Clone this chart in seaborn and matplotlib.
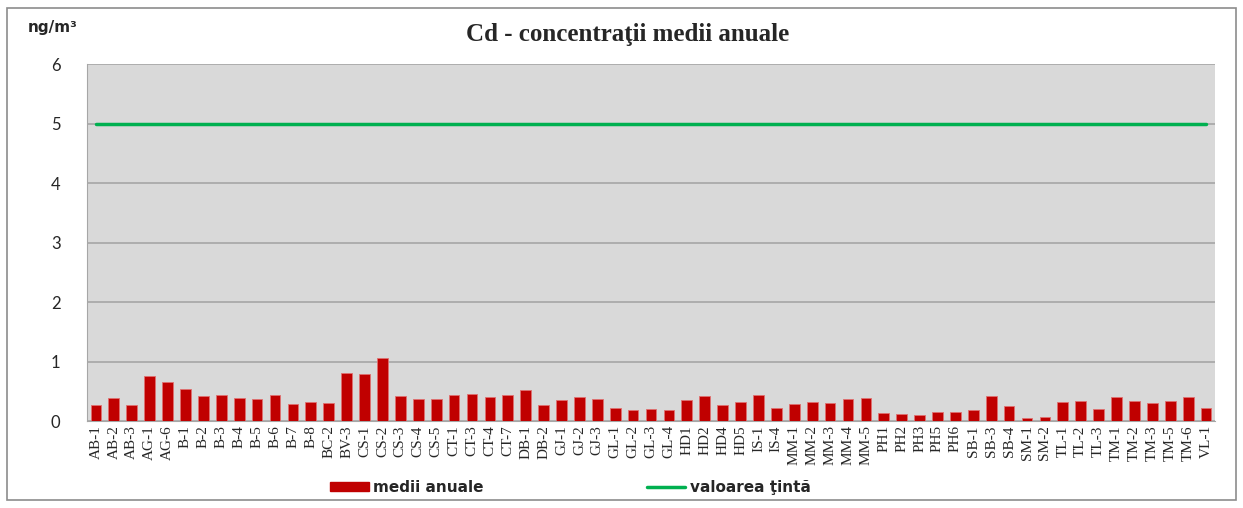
import numpy as np
import pandas as pd
import matplotlib
matplotlib.use("Agg")
import matplotlib.pyplot as plt
import seaborn as sns
from matplotlib.patches import Rectangle, Patch
from matplotlib.lines import Line2D

# Station codes and annual mean Cd concentrations (ng/m3)
stations = ["AB-1", "AB-2", "AB-3", "AG-1", "AG-6", "B-1", "B-2", "B-3", "B-4", "B-5",
            "B-6", "B-7", "B-8", "BC-2", "BV-3", "CS-1", "CS-2", "CS-3", "CS-4", "CS-5",
            "CT-1", "CT-3", "CT-4", "CT-7", "DB-1", "DB-2", "GJ-1", "GJ-2", "GJ-3", "GL-1",
            "GL-2", "GL-3", "GL-4", "HD1", "HD2", "HD4", "HD5", "IS-1", "IS-4", "MM-1",
            "MM-2", "MM-3", "MM-4", "MM-5", "PH1", "PH2", "PH3", "PH5", "PH6", "SB-1",
            "SB-3", "SB-4", "SM-1", "SM-2", "TL-1", "TL-2", "TL-3", "TM-1", "TM-2", "TM-3",
            "TM-5", "TM-6", "VL-1"]
annual_means = [0.27, 0.39, 0.27, 0.76, 0.66, 0.54, 0.42, 0.44, 0.39, 0.37,
                0.44, 0.28, 0.32, 0.30, 0.81, 0.80, 1.06, 0.43, 0.37, 0.37,
                0.44, 0.46, 0.41, 0.44, 0.52, 0.27, 0.36, 0.40, 0.38, 0.22,
                0.19, 0.20, 0.18, 0.35, 0.42, 0.27, 0.32, 0.44, 0.22, 0.28,
                0.32, 0.30, 0.37, 0.39, 0.14, 0.12, 0.11, 0.15, 0.15, 0.18,
                0.42, 0.26, 0.05, 0.07, 0.32, 0.34, 0.21, 0.40, 0.33, 0.30,
                0.34, 0.40, 0.22]
target_value = [5.0] * len(stations)

df = pd.DataFrame({"station": stations, "mean": annual_means, "target": target_value})

bar_color = "#c00000"
line_color = "#00b050"

sns.set_style("white")
fig = plt.figure(figsize=(12.43, 5.08), dpi=100)
ax = fig.add_axes([0.070, 0.171, 0.9075, 0.703])
ax.set_facecolor("#d9d9d9")

sns.barplot(data=df, x="station", y="mean", color=bar_color, width=0.6,
            edgecolor="#e07070", linewidth=0.6, saturation=1, ax=ax, zorder=3)
ax.plot(np.arange(len(df)), df["target"], color=line_color, linewidth=2.5, zorder=4)

ax.set_ylim(0, 6)
ax.set_yticks(range(0, 7))
ax.set_xlim(-0.5, len(df) - 0.5)
ax.grid(axis="y", color="#a6a6a6", linewidth=1.2, zorder=0)
ax.set_axisbelow(True)
ax.set_xlabel("")
ax.set_ylabel("")

for side in ["top", "right"]:
    ax.spines[side].set_visible(False)
ax.spines["left"].set_color("#a6a6a6")
ax.spines["bottom"].set_color("#a6a6a6")

ax.tick_params(axis="y", length=7, color="#a6a6a6", pad=12, labelsize=12)
ax.tick_params(axis="x", length=0, pad=3)
for lbl in ax.get_yticklabels():
    lbl.set_fontfamily("Lato")
ax.set_xticks(range(len(df)))
ax.set_xticklabels(df["station"], rotation=90, fontfamily="Liberation Serif", fontsize=11)

fig.text(0.505, 0.933, "Cd - concentraţii medii anuale", ha="center", va="center",
         fontfamily="Liberation Serif", fontweight="bold", fontsize=18)
fig.text(0.022, 0.945, "ng/m³", ha="left", va="center", fontfamily="DejaVu Sans",
         fontweight="bold", fontsize=11)

handles = [Patch(facecolor=bar_color, edgecolor=bar_color),
           Line2D([0], [0], color=line_color, linewidth=2.5)]
leg = fig.legend(handles, ["medii anuale", "valoarea ţintă"], loc="center",
                 bbox_to_anchor=(0.459, 0.04), ncol=2, frameon=False,
                 columnspacing=10.7, handlelength=2.5, handleheight=0.5, handletextpad=0.3,
                 prop={"family": "DejaVu Sans", "weight": "bold", "size": 11})

fig.patches.append(Rectangle((0.006, 0.015), 0.988, 0.97, transform=fig.transFigure,
                             fill=False, edgecolor="#8c8c8c", linewidth=1.2))

fig.savefig("out.png", dpi=100)
